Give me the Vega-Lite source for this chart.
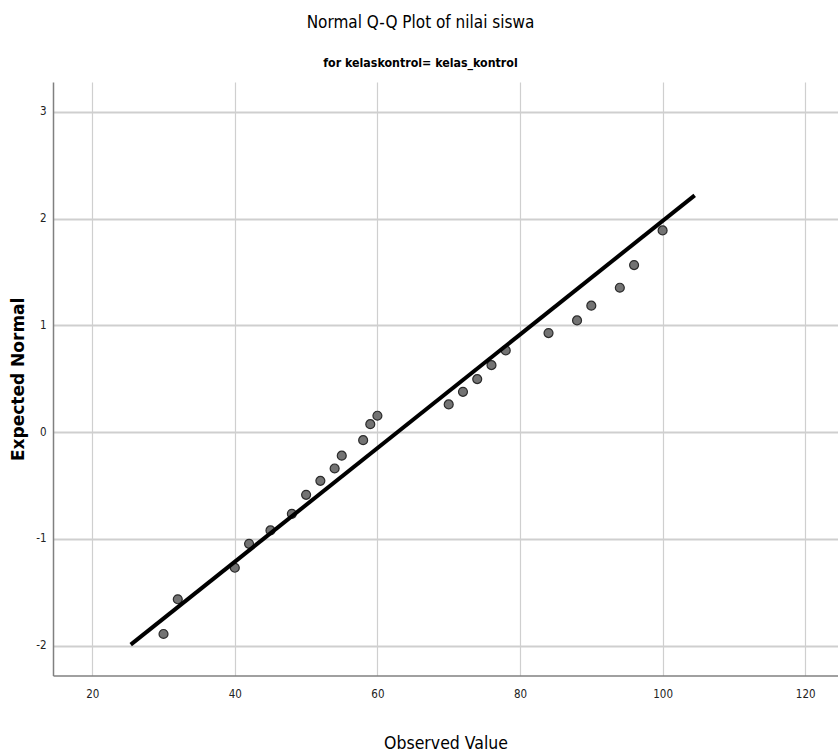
{
  "$schema": "https://vega.github.io/schema/vega-lite/v6.json",
  "width": 785,
  "height": 593.6,
  "autosize": {"type": "none"},
  "padding": {"left": 53, "top": 82, "right": 0, "bottom": 79.4},
  "background": "white",
  "title": {
    "text": "Normal Q-Q Plot of nilai siswa",
    "subtitle": "for kelaskontrol= kelas_kontrol",
    "anchor": "middle",
    "dx": -25,
    "font": "DejaVu Sans Condensed, Liberation Sans, sans-serif",
    "fontSize": 17,
    "fontWeight": "normal",
    "color": "#000000",
    "subtitleFont": "DejaVu Sans Condensed, Liberation Sans, sans-serif",
    "subtitleFontSize": 12.3,
    "subtitleFontWeight": "bold",
    "subtitleColor": "#000000",
    "subtitlePadding": 25,
    "offset": 12
  },
  "config": {
    "view": {"stroke": null},
    "axis": {
      "labelFont": "DejaVu Sans Condensed, Liberation Sans, sans-serif",
      "labelFontSize": 11.5,
      "labelColor": "#222222",
      "domainColor": "#808080",
      "domainWidth": 1.5,
      "ticks": false,
      "gridColor": "#cfcfcf"
    }
  },
  "layer": [
    {
      "data": {
        "values": [
          {"observed": 30, "expected": -1.89},
          {"observed": 32, "expected": -1.565},
          {"observed": 40, "expected": -1.27},
          {"observed": 42, "expected": -1.046},
          {"observed": 45, "expected": -0.92},
          {"observed": 48, "expected": -0.765},
          {"observed": 50, "expected": -0.587},
          {"observed": 52, "expected": -0.456},
          {"observed": 54, "expected": -0.34},
          {"observed": 55, "expected": -0.22},
          {"observed": 58, "expected": -0.075},
          {"observed": 59, "expected": 0.075},
          {"observed": 60, "expected": 0.154},
          {"observed": 70, "expected": 0.26},
          {"observed": 72, "expected": 0.378},
          {"observed": 74, "expected": 0.497},
          {"observed": 76, "expected": 0.628},
          {"observed": 78, "expected": 0.766},
          {"observed": 84, "expected": 0.928},
          {"observed": 88, "expected": 1.047},
          {"observed": 90, "expected": 1.185},
          {"observed": 94, "expected": 1.353},
          {"observed": 96, "expected": 1.565},
          {"observed": 100, "expected": 1.89}
        ]
      },
      "mark": {"type": "point", "filled": true, "fill": "#737373", "stroke": "#2b2b2b", "strokeWidth": 1.2, "size": 80, "opacity": 1},
      "encoding": {
        "x": {
          "field": "observed", "type": "quantitative",
          "scale": {"domain": [14.5, 124.6], "nice": false, "zero": false},
          "axis": {
            "values": [20, 40, 60, 80, 100, 120],
            "format": "d",
            "title": "Observed Value",
            "titleFont": "DejaVu Sans Condensed, Liberation Sans, sans-serif",
            "titleFontSize": 17.5,
            "titleFontWeight": "normal",
            "titleColor": "#000000",
            "titlePadding": 34,
            "labelPadding": 13,
            "gridWidth": 1.2
          }
        },
        "y": {
          "field": "expected", "type": "quantitative",
          "scale": {"domain": [-2.28, 3.28], "nice": false, "zero": false},
          "axis": {
            "values": [-2, -1, 0, 1, 2, 3],
            "labelExpr": "'' + datum.value",
            "title": "Expected Normal",
            "titleFont": "DejaVu Sans, sans-serif",
            "titleFontSize": 17,
            "titleFontWeight": "bold",
            "titleColor": "#000000",
            "titlePadding": 8,
            "labelPadding": 7,
            "gridWidth": 2
          }
        }
      }
    },
    {
      "data": {
        "values": [
          {"observed": 25.4, "expected": -1.99},
          {"observed": 104.5, "expected": 2.218}
        ]
      },
      "mark": {"type": "line", "color": "#000000", "strokeWidth": 4, "strokeCap": "butt"},
      "encoding": {
        "x": {"field": "observed", "type": "quantitative"},
        "y": {"field": "expected", "type": "quantitative"}
      }
    }
  ]
}
